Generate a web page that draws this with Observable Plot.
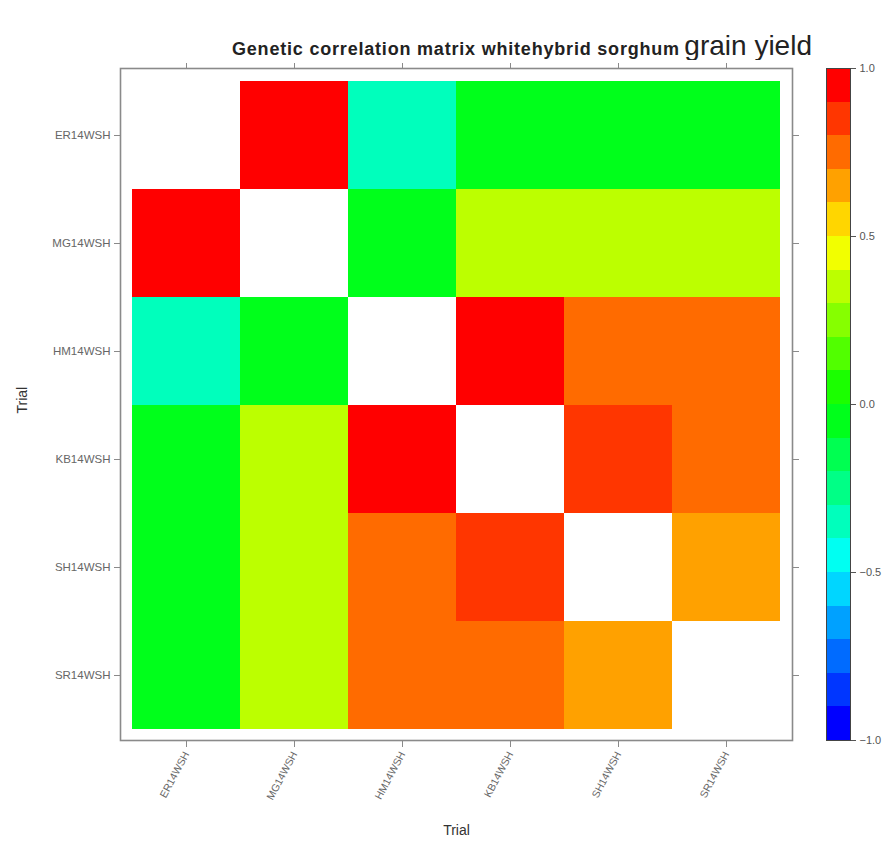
<!DOCTYPE html>
<html><head><meta charset="utf-8">
<script src="https://cdn.jsdelivr.net/npm/d3@7"></script>
<script src="https://cdn.jsdelivr.net/npm/@observablehq/plot@0.6"></script>
<style>
body{margin:0;background:#fff;font-family:"Liberation Sans",Arial,sans-serif;}
#wrap{position:relative;width:892px;height:843px;overflow:hidden;}
#title{position:absolute;left:232px;top:31px;white-space:nowrap;color:#222;line-height:30px;}
#title .a{font-weight:bold;font-size:18px;letter-spacing:0.8px;}
#title .b{font-size:28px;}
#main{position:absolute;left:0;top:60px;}
#legend{position:absolute;left:826px;top:60px;}
</style></head><body>
<div id="wrap">
<div id="title"><span class="a">Genetic correlation matrix whitehybrid sorghum</span> <span class="b">grain yield</span></div>
<div id="main"></div>
<div id="legend"></div>
</div>
<script>
// Trials (row/column order, top-to-bottom and left-to-right)
const trials = ["ER14WSH", "MG14WSH", "HM14WSH", "KB14WSH", "SH14WSH", "SR14WSH"];
// Genetic correlations (diagonal left blank)
const rowER = [null, 0.95, -0.35, -0.05, -0.05, -0.05];
const rowMG = [0.95, null, -0.05, 0.35, 0.35, 0.35];
const rowHM = [-0.35, -0.05, null, 0.95, 0.75, 0.75];
const rowKB = [-0.05, 0.35, 0.95, null, 0.85, 0.75];
const rowSH = [-0.05, 0.35, 0.75, 0.85, null, 0.65];
const rowSR = [-0.05, 0.35, 0.75, 0.75, 0.65, null];
// Colour key breaks and tick labels
const breaks = [-1, -0.9, -0.8, -0.7, -0.6, -0.5, -0.4, -0.3, -0.2, -0.1, 0, 0.1, 0.2, 0.3, 0.4, 0.5, 0.6, 0.7, 0.8, 0.9, 1];
const keyTicks = [-1, -0.5, 0, 0.5, 1];
const palette = ["#0000FF","#0036FF","#006BFF","#00A1FF","#00D6FF","#00FFF2","#00FFBC","#00FF86","#00FF51","#00FF1B",
                 "#1BFF00","#51FF00","#86FF00","#BCFF00","#F2FF00","#FFD600","#FFA100","#FF6B00","#FF3600","#FF0000"];

const rows = [rowER, rowMG, rowHM, rowKB, rowSH, rowSR];
const cells = [];
rows.forEach((r, i) => r.forEach((v, j) => { if (v != null) cells.push({row: trials[i], col: trials[j], value: v}); }));
const bins = breaks.slice(0, -1).map((lo, i) => ({lo, hi: breaks[i + 1], mid: (lo + breaks[i + 1]) / 2}));
const colorScale = {type: "threshold", domain: breaks.slice(1, -1), range: palette};
const font = "Liberation Sans, Arial, sans-serif";

const main = Plot.plot({
  width: 892, height: 783,
  marginTop: 8, marginBottom: 103, marginLeft: 120, marginRight: 100,
  style: {fontFamily: font, background: "white", color: "#444"},
  x: {domain: trials, padding: 0, insetLeft: 11, insetRight: 12, axis: null},
  y: {domain: trials, padding: 0, insetTop: 12, insetBottom: 10, axis: null},
  color: colorScale,
  marks: [
    Plot.cell(cells, {x: "col", y: "row", fill: "value", shapeRendering: "crispEdges"}),
    Plot.frame({stroke: "#8a8a8a", strokeWidth: 1.6}),
    Plot.axisY({anchor: "left", tickSize: 6, tickPadding: 4, fontSize: 11.5, fill: "#666", stroke: "#8a8a8a", label: null}),
    Plot.axisY({anchor: "right", tickSize: 6, fill: "none", stroke: "#8a8a8a", label: null}),
    Plot.axisX({anchor: "top", tickSize: 6, fill: "none", stroke: "#8a8a8a", label: null}),
    Plot.axisX({anchor: "bottom", tickSize: 7, tickRotate: -62, fontSize: 10.5, fill: "#666", stroke: "#8a8a8a", label: null}),
    Plot.text(["Trial"], {frameAnchor: "bottom", dy: 94, fontSize: 14, fill: "#333"}),
    Plot.text(["Trial"], {frameAnchor: "left", dx: -98, dy: 9, rotate: -90, fontSize: 14, fill: "#333"})
  ]
});
document.getElementById("main").append(main);

const legend = Plot.plot({
  width: 66, height: 783,
  marginTop: 8, marginBottom: 103, marginLeft: 0, marginRight: 42,
  style: {fontFamily: font, background: "transparent", color: "#444"},
  x: {axis: null},
  y: {domain: [-1, 1], axis: null},
  color: colorScale,
  marks: [
    Plot.rect(bins, {y1: "lo", y2: "hi", fill: "mid", shapeRendering: "crispEdges"}),
    Plot.frame({stroke: "#444", strokeWidth: 1}),
    Plot.axisY({anchor: "right", ticks: keyTicks, tickFormat: d3.format(".1f"), tickSize: 5, fontSize: 11, fill: "#555", stroke: "#555", label: null})
  ]
});
document.getElementById("legend").append(legend);
</script>
</body></html>
